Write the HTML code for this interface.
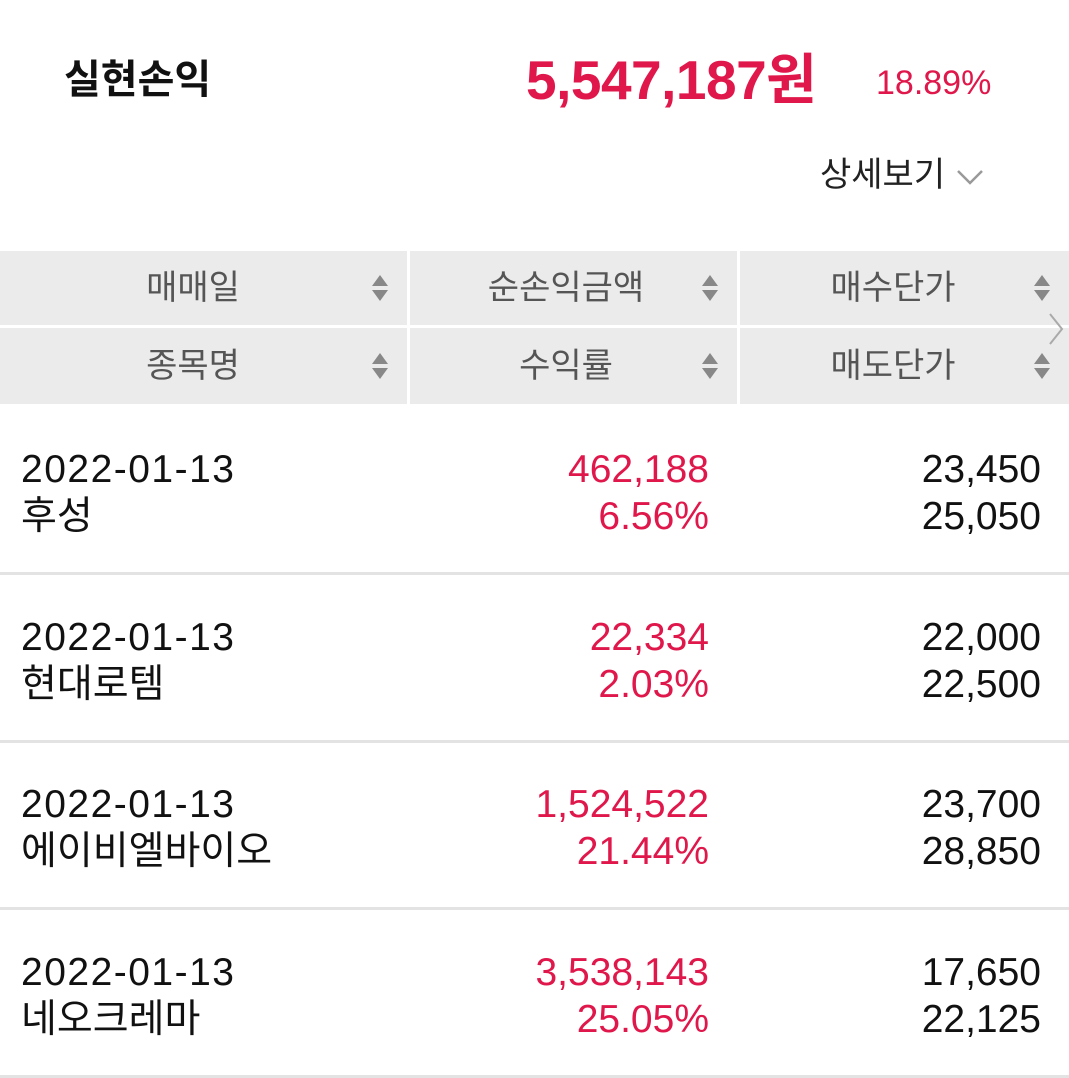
<!DOCTYPE html>
<html><head><meta charset="utf-8"><style>
html,body{margin:0;padding:0;background:#fff;width:1069px;height:1077px;overflow:hidden;font-family:"Liberation Sans","Noto Sans CJK KR",sans-serif;}
.a{position:absolute;white-space:nowrap;line-height:1;}
.red{color:#e0174b;}
.hdr{position:absolute;background:#ebebeb;color:#555;font-size:34px;}
.hdr span{position:absolute;top:50%;transform:translate(-50%,-50%);line-height:1;}
.sort{position:absolute;top:50%;transform:translateY(-50%);width:18px;height:30px;}
.row{position:absolute;left:0;width:1069px;height:168px;border-bottom:3px solid #e3e3e3;box-sizing:border-box;color:#111;}
.row .a{font-size:39px;}
</style></head><body>
<div class="a" style="left:64px;top:60px;font-size:40px;font-weight:bold;color:#111;">실현손익</div>
<div class="a red" style="left:526px;top:53px;font-size:55px;font-weight:bold;letter-spacing:-0.5px;">5,547,187원</div>
<div class="a red" style="left:876px;top:66px;font-size:34px;">18.89%</div>
<div class="a" style="left:820px;top:158px;font-size:34px;color:#222;">상세보기 <svg width="30" height="20" viewBox="0 0 30 20" style="vertical-align:middle"><polyline points="3,4 15,16 27,4" fill="none" stroke="#999" stroke-width="2.5"/></svg></div>

<div id="hdrs"></div>
<div class="a" style="left:1047px;top:312px;"><svg width="18" height="34"><polyline points="3,2 15,17 3,32" fill="none" stroke="#aaa" stroke-width="2"/></svg></div>
<div id="rows"></div>
<script>
const headers=[["매매일","순손익금액","매수단가"],["종목명","수익률","매도단가"]];
const dates=["2022-01-13","2022-01-13","2022-01-13","2022-01-13"];
const names=["후성","현대로템","에이비엘바이오","네오크레마"];
const profits=["462,188","22,334","1,524,522","3,538,143"];
const rates=["6.56%","2.03%","21.44%","25.05%"];
const buys=["23,450","22,000","23,700","17,650"];
const sells=["25,050","22,500","28,850","22,125"];
const cols=[[0,407],[410,327],[740,329]];
const hy=[[251,74],[328,76]];
const H=document.getElementById('hdrs');
headers.forEach((r,ri)=>r.forEach((t,ci)=>{
 const d=document.createElement('div');d.className='hdr';
 
 
 d.style.left=cols[ci][0]+'px';d.style.width=cols[ci][1]+'px';d.style.top=hy[ri][0]+'px';d.style.height=hy[ri][1]+'px';
 const cx=[193,156,153][ci];
 d.innerHTML='<span style="left:'+cx+'px">'+t+'</span><svg class="sort" style="left:'+(cols[ci][1]-36)+'px" viewBox="0 0 18 30"><polygon points="9,2 17,13 1,13" fill="#888"/><polygon points="1,17 17,17 9,28" fill="#888"/></svg>';
 H.appendChild(d);
}));
const R=document.getElementById('rows');
dates.forEach((dt,i)=>{
 const r=document.createElement('div');r.className='row';
 
 
 r.style.top=(407+i*167.5)+'px';
 r.innerHTML='<div class="a" style="left:21px;top:43px;letter-spacing:1.5px">'+dt+'</div>'+
 '<div class="a" style="left:21px;top:90px">'+names[i]+'</div>'+
 '<div class="a red" style="right:360px;top:43px">'+profits[i]+'</div>'+
 '<div class="a red" style="right:360px;top:90px">'+rates[i]+'</div>'+
 '<div class="a" style="right:28px;top:43px">'+buys[i]+'</div>'+
 '<div class="a" style="right:28px;top:90px">'+sells[i]+'</div>';
 R.appendChild(r);
});
</script>
</body></html>
